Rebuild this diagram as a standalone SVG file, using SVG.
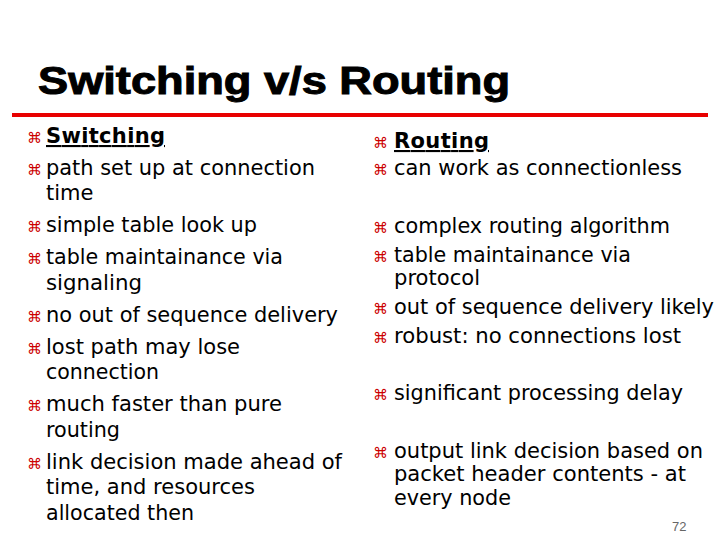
<svg xmlns="http://www.w3.org/2000/svg" width="720" height="540" viewBox="0 0 720 540">
<style>
.t{font-family:"DejaVu Sans","Verdana",sans-serif;font-size:21px;fill:#000}
.b{font-family:"DejaVu Sans",sans-serif;font-size:15px;fill:#cc0000}
.h{font-weight:bold;text-decoration:underline}
</style>
<rect width="720" height="540" fill="#fff"/>
<text x="38" y="94" font-family="Liberation Sans,Arial,sans-serif" font-weight="900" font-size="38" textLength="472" lengthAdjust="spacingAndGlyphs" stroke="#000" stroke-width="1">Switching v/s Routing</text>
<rect x="12" y="113" width="696" height="4" fill="#e80000"/>
<g id="left">
<text class="b" x="27" y="143">⌘</text><text class="t h" x="46" y="143" textLength="119">Switching</text>
<text class="b" x="27" y="175">⌘</text><text class="t" x="46" y="175" textLength="269" lengthAdjust="spacingAndGlyphs">path set up at connection</text>
<text class="t" x="46" y="200">time</text>
<text class="b" x="27" y="232">⌘</text><text class="t" x="46" y="232" textLength="211" lengthAdjust="spacingAndGlyphs">simple table look up</text>
<text class="b" x="27" y="264">⌘</text><text class="t" x="46" y="264" textLength="237" lengthAdjust="spacingAndGlyphs">table maintainance via</text>
<text class="t" x="46" y="290" textLength="96" lengthAdjust="spacingAndGlyphs">signaling</text>
<text class="b" x="27" y="322">⌘</text><text class="t" x="46" y="322" textLength="292" lengthAdjust="spacingAndGlyphs">no out of sequence delivery</text>
<text class="b" x="27" y="354">⌘</text><text class="t" x="46" y="354" textLength="194" lengthAdjust="spacingAndGlyphs">lost path may lose</text>
<text class="t" x="46" y="379" textLength="113" lengthAdjust="spacingAndGlyphs">connection</text>
<text class="b" x="27" y="411">⌘</text><text class="t" x="46" y="411" textLength="236" lengthAdjust="spacingAndGlyphs">much faster than pure</text>
<text class="t" x="46" y="437" textLength="74" lengthAdjust="spacingAndGlyphs">routing</text>
<text class="b" x="27" y="469">⌘</text><text class="t" x="46" y="469" textLength="296" lengthAdjust="spacingAndGlyphs">link decision made ahead of</text>
<text class="t" x="46" y="494" textLength="209" lengthAdjust="spacingAndGlyphs">time, and resources</text>
<text class="t" x="46" y="520" textLength="148" lengthAdjust="spacingAndGlyphs">allocated then</text>
</g>
<g id="right">
<text class="b" x="373" y="148">⌘</text><text class="t h" x="394" y="148" textLength="95">Routing</text>
<text class="b" x="373" y="175">⌘</text><text class="t" x="394" y="175" textLength="288" lengthAdjust="spacingAndGlyphs">can work as connectionless</text>
<text class="b" x="373" y="233">⌘</text><text class="t" x="394" y="233" textLength="276" lengthAdjust="spacingAndGlyphs">complex routing algorithm</text>
<text class="b" x="373" y="262">⌘</text><text class="t" x="394" y="262" textLength="237" lengthAdjust="spacingAndGlyphs">table maintainance via</text>
<text class="t" x="394" y="285" textLength="86" lengthAdjust="spacingAndGlyphs">protocol</text>
<text class="b" x="373" y="314">⌘</text><text class="t" x="394" y="314" textLength="320" lengthAdjust="spacingAndGlyphs">out of sequence delivery likely</text>
<text class="b" x="373" y="343">⌘</text><text class="t" x="394" y="343" textLength="287" lengthAdjust="spacingAndGlyphs">robust: no connections lost</text>
<text class="b" x="373" y="400">⌘</text><text class="t" x="394" y="400" textLength="289" lengthAdjust="spacingAndGlyphs">significant processing delay</text>
<text class="b" x="373" y="458">⌘</text><text class="t" x="394" y="458" textLength="309" lengthAdjust="spacingAndGlyphs">output link decision based on</text>
<text class="t" x="394" y="481" textLength="292" lengthAdjust="spacingAndGlyphs">packet header contents - at</text>
<text class="t" x="394" y="505" textLength="117" lengthAdjust="spacingAndGlyphs">every node</text>
</g>
<text x="672" y="531" font-family="Liberation Sans,Arial,sans-serif" font-size="13" fill="#666">72</text>
</svg>
